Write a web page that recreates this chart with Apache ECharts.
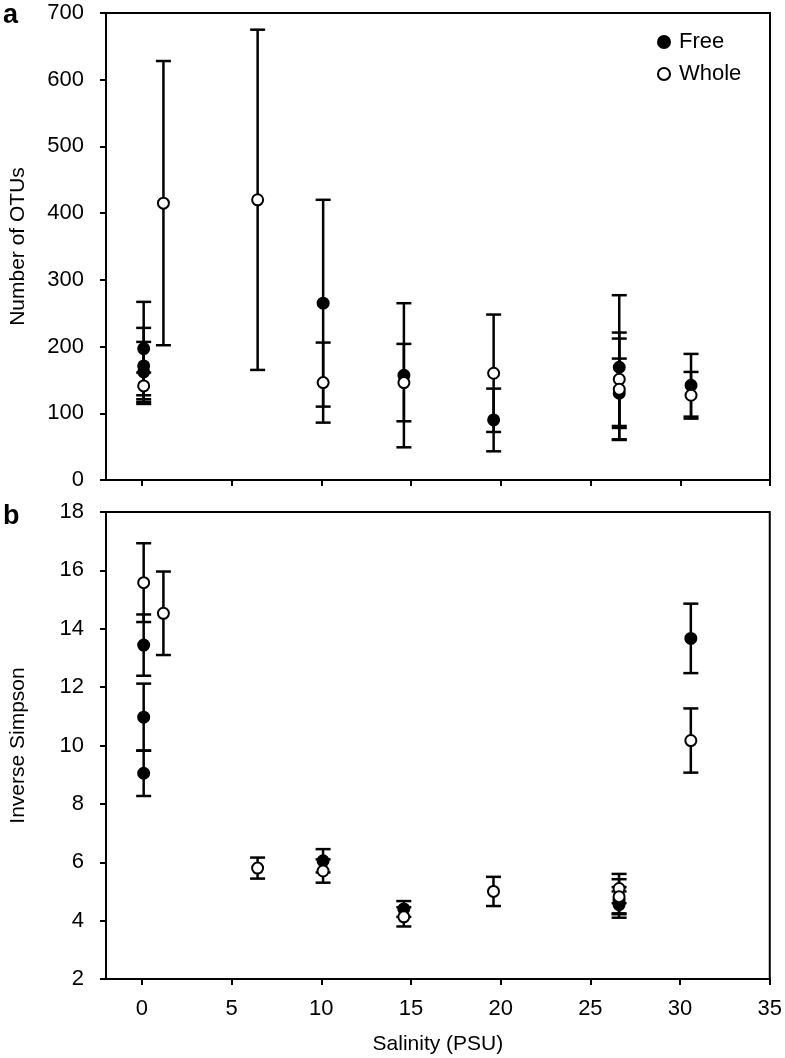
<!DOCTYPE html>
<html>
<head>
<meta charset="utf-8">
<script src="https://cdn.jsdelivr.net/npm/echarts@6/dist/echarts.min.js"></script>
<style>
html,body{margin:0;padding:0;background:#fff;}
#chart{width:785px;height:1058px;}
</style>
</head>
<body>
<div id="chart"></div>
<script>
// ---- Data ----
const xTicks = [0, 5, 10, 15, 20, 25, 30, 35];

// Panel a: Number of OTUs
const freeOtuX   = [0.1, 0.1, 0.1, 10.1, 14.6, 19.6, 26.6, 26.6, 30.6];
const freeOtu    = [197, 171, 162, 265, 157, 90, 169, 130, 142];
const freeOtuErr = [70, 57, 45, 155, 108, 47, 108, 52, 47];

const wholeOtuX   = [0.1, 1.2, 6.45, 10.1, 14.6, 19.6, 26.6, 26.6, 30.6];
const wholeOtu    = [141, 415, 420, 146, 146, 160, 151, 136, 127];
const wholeOtuErr = [20, 213, 255, 60, 58, 88, 70, 76, 35];

// Panel b: Inverse Simpson
const freeSimX   = [0.1, 0.1, 0.1, 10.1, 14.6, 26.6, 26.6, 30.6];
const freeSim    = [13.44, 10.97, 9.05, 6.05, 4.4, 4.7, 4.55, 13.67];
const freeSimErr = [1.05, 1.15, 0.78, 0.4, 0.27, 0.45, 0.45, 1.19];

const wholeSimX   = [0.1, 1.2, 6.45, 10.1, 14.6, 19.6, 26.6, 26.6, 30.6];
const wholeSim    = [15.58, 14.53, 5.8, 5.7, 4.13, 5.0, 5.1, 4.82, 10.17];
const wholeSimErr = [1.35, 1.43, 0.36, 0.4, 0.33, 0.5, 0.5, 0.6, 1.1];

// ---- Helpers ----
const FONT = 'Liberation Sans, Arial, sans-serif';
const pts = (xs, ys) => xs.map((x, i) => [x, ys[i]]);
const bars = (xs, ys, es) => xs.map((x, i) => [x, ys[i] - es[i], ys[i] + es[i]]);

function errRender(params, api) {
  const x = api.value(0), lo = api.value(1), hi = api.value(2);
  const pLo = api.coord([x, lo]);
  const pHi = api.coord([x, hi]);
  const hw = 7.5;
  const style = { stroke: '#000', lineWidth: 2.5 };
  return {
    type: 'group',
    children: [
      { type: 'line', shape: { x1: pLo[0], y1: pLo[1], x2: pHi[0], y2: pHi[1] }, style },
      { type: 'line', shape: { x1: pLo[0] - hw, y1: pLo[1], x2: pLo[0] + hw, y2: pLo[1] }, style },
      { type: 'line', shape: { x1: pHi[0] - hw, y1: pHi[1], x2: pHi[0] + hw, y2: pHi[1] }, style }
    ]
  };
}

const axisLineStyle = { color: '#000', width: 2 };
const labelStyle = { color: '#000', fontSize: 22, fontFamily: FONT };

function xAxisDef(gridIndex, showLabels) {
  return {
    type: 'value', gridIndex, min: -2, max: 35,
    axisLine: { show: true, onZero: false, lineStyle: axisLineStyle },
    axisTick: { show: true, inside: false, length: 6, customValues: xTicks, lineStyle: { color: '#000', width: 2 } },
    axisLabel: { show: showLabels, customValues: xTicks, margin: 19, ...labelStyle },
    splitLine: { show: false },
    name: showLabels ? 'Salinity (PSU)' : '',
    nameLocation: 'middle', nameGap: 55,
    nameTextStyle: { color: '#000', fontSize: 21, fontFamily: FONT }
  };
}
function yAxisDef(gridIndex, min, max, interval, name) {
  return {
    type: 'value', gridIndex, min, max, interval,
    axisLine: { show: true, onZero: false, lineStyle: axisLineStyle },
    axisTick: { show: true, inside: false, length: 6, lineStyle: { color: '#000', width: 2 } },
    axisLabel: { margin: 22, ...labelStyle },
    splitLine: { show: false },
    name, nameLocation: 'middle', nameGap: 77, nameRotate: 90,
    nameTextStyle: { color: '#000', fontSize: 21, fontFamily: FONT }
  };
}

const filledStyle = { color: '#000', borderColor: '#000', borderWidth: 2, opacity: 1 };
const openStyle = { color: '#fff', borderColor: '#000', borderWidth: 2, opacity: 1 };

const option = {
  animation: false,
  backgroundColor: '#fff',
  grid: [
    { left: 101, right: 15, top: 13, height: 467, show: true, borderColor: '#000', borderWidth: 2, backgroundColor: 'transparent' },
    { left: 101, right: 15, top: 512, height: 467, show: true, borderColor: '#000', borderWidth: 2, backgroundColor: 'transparent' }
  ],
  xAxis: [xAxisDef(0, false), xAxisDef(1, true)],
  yAxis: [
    yAxisDef(0, 0, 700, 100, 'Number of OTUs'),
    yAxisDef(1, 2, 18, 2, 'Inverse Simpson')
  ],
  legend: {
    data: ['Free', 'Whole'],
    orient: 'vertical',
    left: 652, top: 26,
    itemWidth: 12, itemHeight: 12, itemGap: 10,
    textStyle: { color: '#000', fontSize: 22, fontFamily: FONT, lineHeight: 22, padding: [0, 0, 0, 4] }
  },
  graphic: [
    { type: 'text', left: 3, top: 2, style: { text: 'a', font: 'bold 27px ' + FONT, fill: '#000' } },
    { type: 'text', left: 3, top: 503, style: { text: 'b', font: 'bold 27px ' + FONT, fill: '#000' } }
  ],
  series: [
    { type: 'custom', name: 'Free error', xAxisIndex: 0, yAxisIndex: 0, renderItem: errRender,
      encode: { x: 0, y: [1, 2] }, data: bars(freeOtuX, freeOtu, freeOtuErr), z: 1 },
    { type: 'custom', name: 'Whole error', xAxisIndex: 0, yAxisIndex: 0, renderItem: errRender,
      encode: { x: 0, y: [1, 2] }, data: bars(wholeOtuX, wholeOtu, wholeOtuErr), z: 1 },
    { type: 'custom', name: 'Free error b', xAxisIndex: 1, yAxisIndex: 1, renderItem: errRender,
      encode: { x: 0, y: [1, 2] }, data: bars(freeSimX, freeSim, freeSimErr), z: 1 },
    { type: 'custom', name: 'Whole error b', xAxisIndex: 1, yAxisIndex: 1, renderItem: errRender,
      encode: { x: 0, y: [1, 2] }, data: bars(wholeSimX, wholeSim, wholeSimErr), z: 1 },
    { type: 'scatter', name: 'Free', xAxisIndex: 0, yAxisIndex: 0, symbol: 'circle', symbolSize: 11,
      itemStyle: filledStyle, data: pts(freeOtuX, freeOtu), z: 3 },
    { type: 'scatter', name: 'Whole', xAxisIndex: 0, yAxisIndex: 0, symbol: 'circle', symbolSize: 11,
      itemStyle: openStyle, data: pts(wholeOtuX, wholeOtu), z: 4 },
    { type: 'scatter', name: 'Free', xAxisIndex: 1, yAxisIndex: 1, symbol: 'circle', symbolSize: 11,
      itemStyle: filledStyle, data: pts(freeSimX, freeSim), z: 3 },
    { type: 'scatter', name: 'Whole', xAxisIndex: 1, yAxisIndex: 1, symbol: 'circle', symbolSize: 11,
      itemStyle: openStyle, data: pts(wholeSimX, wholeSim), z: 4 }
  ]
};

const chart = echarts.init(document.getElementById('chart'), null, { renderer: 'canvas' });
chart.setOption(option);
</script>
</body>
</html>
